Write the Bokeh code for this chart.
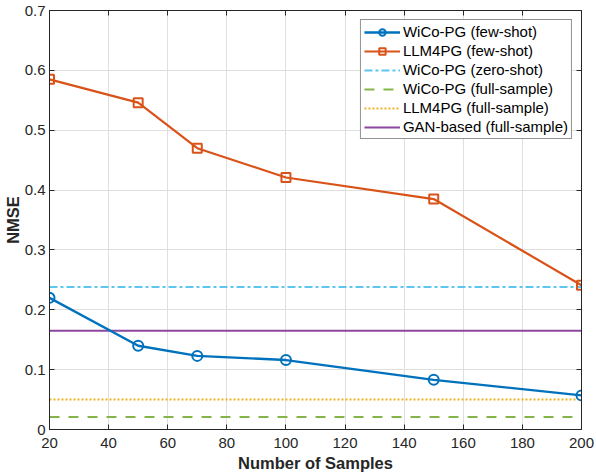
from bokeh.plotting import figure
from bokeh.models import LinearAxis, Range1d, Legend, LegendItem, FixedTicker
from bokeh.embed import file_html
from bokeh.resources import INLINE

samples = [20, 50, 70, 100, 150, 200]
wico_few = [0.220, 0.140, 0.123, 0.116, 0.083, 0.057]
llm4pg_few = [0.585, 0.546, 0.470, 0.421, 0.385, 0.241]
wico_zero = 0.238
wico_full = 0.021
llm4pg_full = 0.050
gan_full = 0.165

x_ticks = [20, 40, 60, 80, 100, 120, 140, 160, 180, 200]
y_ticks = [0, 0.1, 0.2, 0.3, 0.4, 0.5, 0.6, 0.7]

BLUE = "#0072BD"
ORANGE = "#D95319"
LBLUE = "#5EC4F0"
GREEN = "#85B548"
YELLOW = "#EDB120"
PURPLE = "#8E47A0"
FONT = "Liberation Sans"
INK = "#262626"

p = figure(width=596, height=474, output_backend="svg", toolbar_location=None,
           x_range=Range1d(20, 200), y_range=Range1d(0, 0.7),
           min_border_left=0, min_border_right=15, min_border_top=10, min_border_bottom=0)
p.outline_line_color = INK
p.outline_line_width = 1
p.background_fill_color = "white"
p.border_fill_color = "white"

for ax in (p.xaxis[0], p.yaxis[0]):
    ax.major_label_text_font = FONT
    ax.major_label_text_font_size = "15px"
    ax.major_label_text_color = INK
    ax.axis_line_color = INK
    ax.major_tick_line_color = INK
    ax.major_tick_in = 5
    ax.major_tick_out = 0
    ax.minor_tick_line_color = None
    ax.axis_label_text_font = FONT
    ax.axis_label_text_font_style = "bold"
    ax.axis_label_text_font_size = "16.5px"
    ax.axis_label_text_color = INK

p.xaxis[0].ticker = FixedTicker(ticks=x_ticks)
p.yaxis[0].ticker = FixedTicker(ticks=y_ticks)
p.yaxis[0].major_label_overrides = {0: "0"}
p.xaxis[0].axis_label = "Number of Samples"
p.yaxis[0].axis_label = "NMSE"
p.xaxis[0].axis_label_standoff = 3
p.yaxis[0].axis_label_standoff = 0
p.xaxis[0].major_label_standoff = 8
p.yaxis[0].major_label_standoff = 4

# box ticks on top and right (no labels)
top = LinearAxis(ticker=FixedTicker(ticks=x_ticks), major_label_text_font_size="0px",
                 major_tick_in=5, major_tick_out=0, minor_tick_line_color=None,
                 axis_line_color=INK, major_tick_line_color=INK, major_label_standoff=0)
right = LinearAxis(ticker=FixedTicker(ticks=y_ticks), major_label_text_font_size="0px",
                   major_tick_in=5, major_tick_out=0, minor_tick_line_color=None,
                   axis_line_color=INK, major_tick_line_color=INK, major_label_standoff=0)
p.add_layout(top, "above")
p.add_layout(right, "right")

p.xgrid.ticker = FixedTicker(ticks=x_ticks)
p.ygrid.ticker = FixedTicker(ticks=y_ticks)
p.grid.grid_line_color = "#dfdfdf"
p.grid.grid_line_width = 1

xs_h = [samples[0], samples[-1]]

r_zero = p.line(xs_h, [wico_zero] * 2, line_color=LBLUE, line_width=2, line_dash="8 3 3 3")
r_full = p.line(xs_h, [wico_full] * 2, line_color=GREEN, line_width=2, line_dash="10 9")
r_llmf = p.line(xs_h, [llm4pg_full] * 2, line_color=YELLOW, line_width=2, line_dash="2 2")
r_gan = p.line(xs_h, [gan_full] * 2, line_color=PURPLE, line_width=2)

r1l = p.line(samples, wico_few, line_color=BLUE, line_width=2.4)
r1m = p.scatter(samples, wico_few, marker="circle", size=10, fill_color=None,
                line_color=BLUE, line_width=2)
r2l = p.line(samples, llm4pg_few, line_color=ORANGE, line_width=2.2)
r2m = p.scatter(samples, llm4pg_few, marker="square", size=9, fill_color=None,
                line_color=ORANGE, line_width=2)

legend = Legend(items=[
    LegendItem(label="WiCo-PG (few-shot)", renderers=[r1l, r1m]),
    LegendItem(label="LLM4PG (few-shot)", renderers=[r2l, r2m]),
    LegendItem(label="WiCo-PG (zero-shot)", renderers=[r_zero]),
    LegendItem(label="WiCo-PG (full-sample)", renderers=[r_full]),
    LegendItem(label="LLM4PG (full-sample)", renderers=[r_llmf]),
    LegendItem(label="GAN-based (full-sample)", renderers=[r_gan]),
], location="top_right")
legend.label_text_font = FONT
legend.label_text_font_size = "15px"
legend.label_text_color = "#000000"
legend.label_height = 16
legend.glyph_height = 16
legend.glyph_width = 36
legend.label_standoff = 3
legend.spacing = 2
legend.padding = 3
legend.margin = 9
legend.border_line_color = INK
legend.border_line_width = 1.2
legend.background_fill_alpha = 1
p.add_layout(legend)

open("out.html", "w").write(file_html(p, INLINE))
